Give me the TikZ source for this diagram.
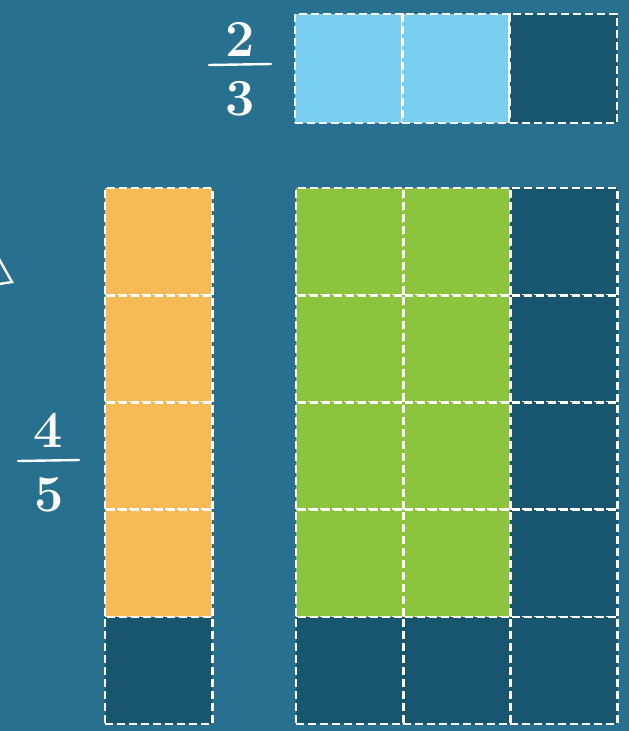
\documentclass[tikz,border=0pt]{standalone}
\usepackage{tikz}
\usetikzlibrary{positioning}
\definecolor{board}{HTML}{28708F}
\definecolor{boarddark}{HTML}{18556E}
\definecolor{skyfill}{HTML}{78CFF0}
\definecolor{orangefill}{HTML}{F8B957}
\definecolor{greenfill}{HTML}{8CC43E}

\begin{document}
\begin{tikzpicture}[x=1pt,y=-1pt,node distance=0pt]
\tikzstyle{cell}=[draw=white,line width=2.6pt,dash pattern=on 8pt off 4pt,minimum width=107.3pt,minimum height=107.2pt,inner sep=0pt,outer sep=0pt,anchor=north west]
\tikzstyle{digit}=[text=white,font=\fontsize{52}{54}\selectfont\bfseries,inner sep=0pt]
\tikzstyle{chalk}=[white,line width=2.4pt,line cap=round]
% board
\fill[board] (0,0) rectangle (629,731);
\useasboundingbox (0,0) rectangle (629,731);
\clip (0,0) rectangle (629,731);
% corner of a square at the left edge
\draw[white,line width=2.4pt] (-14,236) -- (12,282) -- (-20,287);
% two thirds bar
\node[cell,fill=skyfill,minimum height=109pt] (t1) at (295,14) {};
\node[cell,fill=skyfill,minimum height=109pt,right=of t1] (t2) {};
\node[cell,fill=boarddark,minimum height=109pt,right=of t2] (t3) {};
% four fifths column
\foreach \r in {1,...,4}
  \node[cell,fill=orangefill] (c\r) at (105,{188+107.2*(\r-1)}) {};
\node[cell,fill=boarddark] (c5) at (105,{188+107.2*4}) {};
% product grid
\foreach \r in {1,...,5}
  \foreach \c in {1,2,3}{
    \pgfmathsetmacro\shade{(\r<5 && \c<3) ? 1 : 0}
    \ifdim\shade pt>0.5pt
      \node[cell,fill=greenfill] (g\r\c) at ({296+107.2*(\c-1)},{188+107.2*(\r-1)}) {};
    \else
      \node[cell,fill=boarddark] (g\r\c) at ({296+107.2*(\c-1)},{188+107.2*(\r-1)}) {};
    \fi
  }
% fractions
\node[digit] (num23) at (240,39) {2};
\node[digit] (den23) at (240,99) {3};
\coordinate (bar23l) at (209,65);
\coordinate (bar23r) at (271,64);
\draw[chalk] (bar23l) -- (bar23r);
\node[digit] (num45) at (48,430) {4};
\node[digit] (den45) at (49,495) {5};
\coordinate (bar45l) at (18,461);
\coordinate (bar45r) at (79,460);
\draw[chalk] (bar45l) -- (bar45r);
\end{tikzpicture}
\end{document}
